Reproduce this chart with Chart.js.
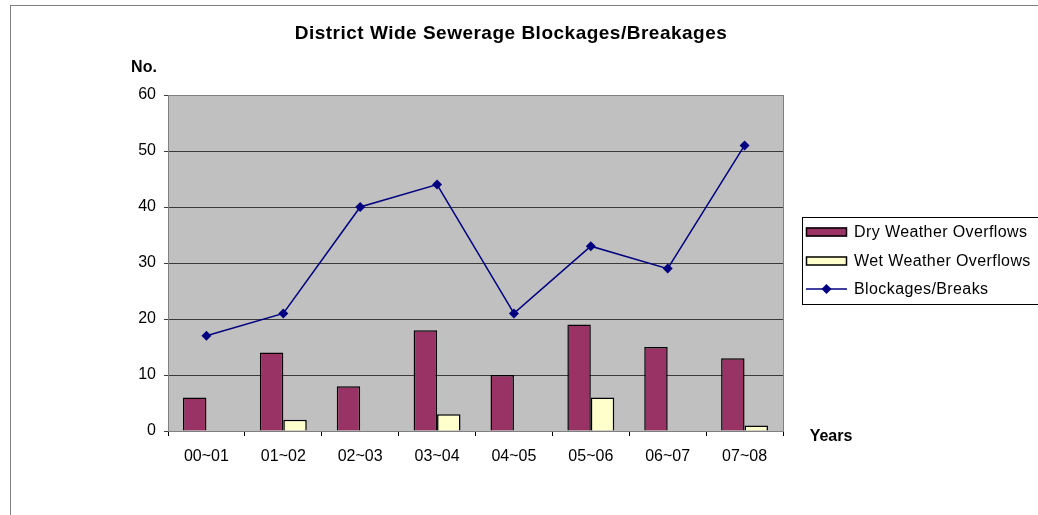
<!DOCTYPE html>
<html>
<head>
<meta charset="utf-8">
<script src="https://cdn.jsdelivr.net/npm/chart.js@4.4.1/dist/chart.umd.min.js"></script>
<style>
  html, body { margin: 0; padding: 0; background: #fff; }
  #wrap { width: 1038px; height: 515px; position: relative; }
</style>
</head>
<body>
<div id="wrap"><canvas id="sewerChart" width="1038" height="515"></canvas></div>
<script>
const years = ['00~01', '01~02', '02~03', '03~04', '04~05', '05~06', '06~07', '07~08'];
const dryOverflows = [6, 14, 8, 18, 10, 19, 15, 13];
const wetOverflows = [0, 2, 0, 3, 0, 6, 0, 1];
const blockages = [17, 21, 40, 44, 21, 33, 29, 51];

const FONT = 'Arial, "Liberation Sans", sans-serif';

// frame, plot background, titles and the boxed legend, Excel style
const excelLook = {
  id: 'excelLook',
  beforeDraw(chart) {
    const c = chart.ctx;
    const a = chart.chartArea;
    c.save();
    c.fillStyle = '#fff';
    c.fillRect(0, 0, chart.width, chart.height);
    c.strokeStyle = '#7f7f7f';
    c.lineWidth = 1;
    c.strokeRect(10.5, 5.5, chart.width + 20, chart.height + 20);
    c.fillStyle = '#c0c0c0';
    c.fillRect(a.left, a.top, a.right - a.left, a.bottom - a.top);
    c.restore();
  },
  afterDraw(chart) {
    const c = chart.ctx;
    const a = chart.chartArea;
    c.save();
    c.strokeStyle = '#808080';
    c.lineWidth = 1;
    c.strokeRect(a.left + 0.5, a.top + 0.5, a.right - a.left, a.bottom - a.top);

    c.fillStyle = '#000';
    c.textAlign = 'center';
    c.textBaseline = 'middle';
    c.font = 'bold 19px ' + FONT;
    c.letterSpacing = '0.5px';
    c.fillText('District Wide Sewerage Blockages/Breakages', 511, 34);
    c.letterSpacing = '0px';
    c.font = 'bold 16px ' + FONT;
    c.fillText('No.', 144, 68);
    c.fillText('Years', 831, 437);

    // legend box
    const lx = 802.5, ly = 217.5;
    c.fillStyle = '#fff';
    c.fillRect(lx, ly, 300, 87);
    c.strokeStyle = '#000';
    c.lineWidth = 1;
    c.strokeRect(lx, ly, 300, 87);
    c.font = '16px ' + FONT;
    c.letterSpacing = '0.4px';
    c.textAlign = 'left';
    const rows = [232, 261, 289];
    chart.data.datasets.forEach((ds, i) => {
      const y = rows[i];
      if (ds.type === 'line') {
        c.strokeStyle = ds.borderColor;
        c.lineWidth = 1.5;
        c.beginPath();
        c.moveTo(806, y);
        c.lineTo(847, y);
        c.stroke();
        c.fillStyle = ds.borderColor;
        c.beginPath();
        c.moveTo(826.5, y - 5);
        c.lineTo(831.5, y);
        c.lineTo(826.5, y + 5);
        c.lineTo(821.5, y);
        c.closePath();
        c.fill();
      } else {
        c.fillStyle = ds.backgroundColor;
        c.fillRect(806, y - 4.5, 41, 9);
        c.strokeStyle = '#000';
        c.lineWidth = 1.5;
        c.strokeRect(806.5, y - 4, 40, 8);
      }
      c.fillStyle = '#000';
      c.fillText(ds.label, 854, y + 1);
    });
    c.restore();
  }
};

const ctx = document.getElementById('sewerChart').getContext('2d');

const chart = new Chart(ctx, {
  type: 'bar',
  data: {
    labels: years,
    datasets: [
      {
        label: 'Dry Weather Overflows',
        data: dryOverflows,
        backgroundColor: '#993366',
        borderColor: '#000',
        borderWidth: 1.5,
        order: 2,
      },
      {
        label: 'Wet Weather Overflows',
        data: wetOverflows,
        backgroundColor: '#ffffcc',
        borderColor: '#000',
        borderWidth: 1.5,
        order: 2,
      },
      {
        type: 'line',
        label: 'Blockages/Breaks',
        data: blockages,
        borderColor: '#000080',
        backgroundColor: '#000080',
        borderWidth: 1.5,
        pointStyle: 'rectRot',
        pointRadius: 5,
        pointBorderWidth: 0,
        tension: 0,
        fill: false,
        order: 1,
      },
    ],
  },
  options: {
    responsive: false,
    animation: false,
    layout: { padding: { left: 0, right: 255, top: 95, bottom: 0 } },
    datasets: {
      bar: { barPercentage: 1, categoryPercentage: 0.61 },
    },
    plugins: {
      legend: { display: false },
      title: { display: false },
      tooltip: { enabled: false },
    },
    scales: {
      x: {
        offset: true,
        grid: {
          offset: true,
          drawOnChartArea: false,
          drawTicks: true,
          tickLength: 5,
          color: '#000',
        },
        border: { display: true, color: '#000' },
        ticks: { color: '#000', font: { family: FONT, size: 16 }, padding: 11, maxRotation: 0 },
        afterFit(s) { s.height = 84; },
      },
      y: {
        min: 0,
        max: 60,
        ticks: { stepSize: 10, color: '#000', font: { family: FONT, size: 16 }, padding: 8 },
        grid: { color: '#3a3a3a', tickLength: 4, lineWidth: 1 },
        border: { display: true, color: '#000' },
        afterFit(s) { s.width = 168; },
      },
    },
  },
  plugins: [excelLook],
});
</script>
</body>
</html>
